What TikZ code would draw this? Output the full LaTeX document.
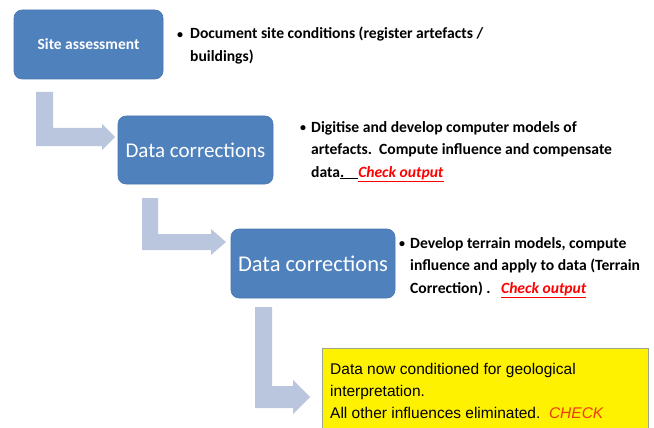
\documentclass[tikz,border=0pt]{standalone}
\usepackage{fontspec}
\setmainfont{Carlito}
\newfontfamily\arialf{Liberation Sans}
\usetikzlibrary{positioning}
\definecolor{boxblue}{HTML}{4F81BD}
\definecolor{boxedge}{HTML}{4A78B0}
\definecolor{arrowc}{HTML}{BAC6DE}
\definecolor{yedge}{HTML}{9AA58C}
\definecolor{chk}{HTML}{FF0000}
\definecolor{chk2}{HTML}{F03A10}
\tikzset{
  stepbox/.style={draw=boxedge, line width=0.6pt, fill=boxblue, rounded corners=8pt, text=white, inner sep=0pt},
  bultext/.style={anchor=north west, align=left, inner sep=0pt, font=\fontsize{15.6}{22.5}\selectfont\bfseries},
  bentarrow/.style={fill=arrowc, draw=none},
}
\newcommand{\chkout}{{\color{chk}\underline{\textit{Check output}}}}
\newcommand{\bul}[1]{\makebox[#1][l]{\raisebox{0.5pt}{\large\textbullet}}}
\begin{document}
\begin{tikzpicture}[x=1pt,y=-1pt]
\useasboundingbox (0,0) rectangle (654,428);
% boxes
\node[stepbox, minimum width=149pt, minimum height=69pt, font=\fontsize{15.5}{19}\selectfont\bfseries] (b1) at (88.5,44.5) {Site assessment};
\node[stepbox, minimum width=155pt, minimum height=68pt, font=\fontsize{21}{25}\selectfont] (b2) at (195.5,150) {Data corrections};
\node[stepbox, minimum width=164pt, minimum height=69pt, font=\fontsize{22.5}{27}\selectfont] (b3) at (313,263.5) {Data corrections};
% yellow box
\node[draw=yedge, line width=0.8pt, fill=yellow, minimum width=326pt, minimum height=92pt, anchor=north west, inner sep=0pt] (y) at (322,348) {};
\node[anchor=north west, align=left, inner sep=0pt, font=\arialf\fontsize{15.5}{22}\selectfont] (yt) at (330,363)
  {Data now conditioned for geological\\interpretation.\\All other influences eliminated.\ \ {\color{chk2}\textit{CHECK}}};
% bullet texts
\node[bultext] (t1) at (177,27) {\bul{13pt}Document site conditions (register artefacts /\\\hspace*{13pt}buildings)};
\node[bultext] (t2) at (300,121) {\bul{11pt}Digitise and develop computer models of\\\hspace*{11pt}artefacts.\ \ Compute influence and compensate\\\hspace*{11pt}data\underline{.\hspace{14pt}}\chkout};
\node[bultext] (t3) at (399,237) {\bul{11pt}Develop terrain models, compute\\\hspace*{11pt}influence and apply to data (Terrain\\\hspace*{11pt}Correction) .\ \ \ \chkout};
% bent arrows
\fill[bentarrow] (36,92) -- (53,92) -- (53,128) -- (102,128) -- (102,124) -- (115,137) -- (102,150) -- (102,146) -- (36,146) -- cycle;
\fill[bentarrow] (142,198) -- (158,198) -- (158,234) -- (211,234) -- (211,229) -- (226,242) -- (211,255) -- (211,250) -- (142,250) -- cycle;
\fill[bentarrow] (255,307) -- (272,307) -- (272,386) -- (293,386) -- (293,380) -- (310,397) -- (293,414) -- (293,408) -- (255,408) -- cycle;
\end{tikzpicture}
\end{document}
